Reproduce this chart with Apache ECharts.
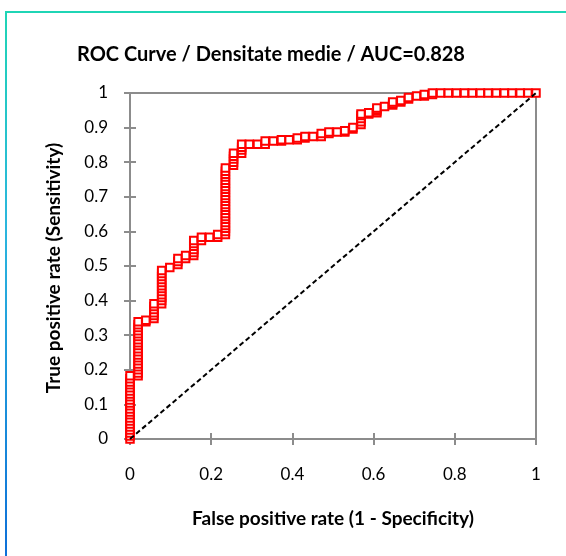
<!DOCTYPE html>
<html>
<head>
<meta charset="utf-8">
<script src="https://cdn.jsdelivr.net/npm/echarts@6/dist/echarts.min.js"></script>
<style>
html,body{margin:0;padding:0;background:#fff;}
#c{width:566px;height:556px;}
</style>
</head>
<body>
<div id="c"></div>
<script>
// Data
const titleText = "ROC Curve / Densitate medie / AUC=0.828";
const xAxisName = "False positive rate (1 - Specificity)";
const yAxisName = "True positive rate (Sensitivity)";
const tickValues = [0, 0.1, 0.2, 0.3, 0.4, 0.5, 0.6, 0.7, 0.8, 0.9, 1];
// false positive rate steps (k/51)
const fprSteps = [0, 0.020, 0.039, 0.059, 0.078, 0.098, 0.118, 0.137, 0.157, 0.176,
  0.196, 0.216, 0.235, 0.255, 0.275, 0.294, 0.314, 0.333, 0.353, 0.373,
  0.392, 0.412, 0.431, 0.451, 0.471, 0.490, 0.510, 0.529, 0.549, 0.569,
  0.588, 0.608, 0.627, 0.647, 0.667, 0.686, 0.706, 0.725, 0.745, 0.765,
  0.784, 0.804, 0.824, 0.843, 0.863, 0.882, 0.902, 0.922, 0.941, 0.961,
  0.980, 1.000];
// true positive rates observed at each false positive step
const tprAtStep = [
  [0, 0.009, 0.017, 0.026, 0.035, 0.043, 0.052, 0.061, 0.07, 0.078, 0.087, 0.096, 0.104, 0.113, 0.122, 0.13, 0.139, 0.148, 0.157, 0.165, 0.174, 0.183],
  [0.183, 0.191, 0.2, 0.209, 0.217, 0.226, 0.235, 0.243, 0.252, 0.261, 0.27, 0.278, 0.287, 0.296, 0.304, 0.313, 0.322, 0.33, 0.339],
  [0.339, 0.343],
  [0.348, 0.357, 0.365, 0.374, 0.383, 0.391],
  [0.391, 0.4, 0.409, 0.417, 0.426, 0.435, 0.443, 0.452, 0.461, 0.47, 0.478, 0.487],
  [0.496],
  [0.504, 0.513, 0.522],
  [0.522, 0.53],
  [0.53, 0.539, 0.548, 0.557, 0.565, 0.574],
  [0.574, 0.583],
  [0.583],
  [0.583, 0.591],
  [0.591, 0.6, 0.609, 0.617, 0.626, 0.635, 0.643, 0.652, 0.661, 0.67, 0.678, 0.687, 0.696, 0.704, 0.713, 0.722, 0.73, 0.739, 0.748, 0.757, 0.765, 0.774, 0.783],
  [0.791, 0.8, 0.809, 0.817, 0.826],
  [0.826, 0.835, 0.843, 0.852],
  [0.852],
  [0.852],
  [0.852, 0.861],
  [0.861],
  [0.861, 0.865],
  [0.865],
  [0.865, 0.87],
  [0.87, 0.874],
  [0.874],
  [0.874, 0.883],
  [0.883, 0.887],
  [0.887],
  [0.887, 0.891],
  [0.896, 0.9],
  [0.909, 0.917, 0.926, 0.935, 0.939],
  [0.939, 0.943],
  [0.943, 0.948, 0.952, 0.957],
  [0.961],
  [0.965, 0.97, 0.974],
  [0.974, 0.978],
  [0.983, 0.987],
  [0.991],
  [0.991, 0.996],
  [0.996, 1],
  [1], [1], [1], [1], [1], [1], [1], [1], [1], [1], [1], [1], [1]
];
const diagonal = [[0, 0], [1, 1]];

const rocPoints = [];
fprSteps.forEach((fx, i) => {
  (tprAtStep[i] || []).forEach(ty => rocPoints.push([fx, ty]));
});

const chart = echarts.init(document.getElementById('c'), null, {renderer: 'canvas'});
const FONT = 'Lato, "Open Sans", sans-serif';
const axisGray = '#8c8c8c';
const gridL = 130, gridT = 93, gridW = 406, gridH = 346;

const baseX = {
  type: 'value', min: 0, max: 1, interval: 0.2,
  splitLine: {show: false},
  axisLine: {show: true, onZero: false, lineStyle: {color: axisGray, width: 2}}
};
const baseY = {
  type: 'value', min: 0, max: 1, interval: 0.1,
  splitLine: {show: false},
  axisLine: {show: true, onZero: false, lineStyle: {color: axisGray, width: 2}}
};

chart.setOption({
  animation: false,
  backgroundColor: '#fff',
  title: {
    text: titleText, left: 266, top: 40, textAlign: 'center',
    textStyle: {fontFamily: FONT, fontWeight: 'bold', fontSize: 20, color: '#000'}
  },
  grid: {
    left: gridL, top: gridT, width: gridW, height: gridH,
    show: true, borderColor: axisGray, borderWidth: 2, backgroundColor: 'transparent'
  },
  graphic: [
    {type: 'line', shape: {x1: 5, y1: 12, x2: 566, y2: 12}, style: {stroke: '#1fd5b5', lineWidth: 2}, silent: true},
    {type: 'line', shape: {x1: 6, y1: 11, x2: 6, y2: 556},
      style: {stroke: new echarts.graphic.LinearGradient(0, 0, 0, 1, [
        {offset: 0, color: '#1fd5b5'}, {offset: 0.4, color: '#2bb6de'}, {offset: 1, color: '#0d6fd8'}]), lineWidth: 2}, silent: true},
    {type: 'text', x: 333, y: 519, style: {text: xAxisName, fontFamily: FONT, fontWeight: 'bold', fontSize: 19, fill: '#000', align: 'center', verticalAlign: 'middle'}},
    {type: 'text', x: 54, y: 268, rotation: Math.PI / 2, style: {text: yAxisName, fontFamily: FONT, fontWeight: 'bold', fontSize: 19, fill: '#000', align: 'center', verticalAlign: 'middle'}}
  ],
  xAxis: [
    Object.assign({}, baseX, {
      position: 'bottom',
      axisTick: {show: true, length: 6, lineStyle: {color: axisGray, width: 2}},
      axisLabel: {show: true, margin: 27, fontFamily: FONT, fontSize: 17, color: '#000',
        formatter: v => String(Math.round(v * 10) / 10)}
    }),
    Object.assign({}, baseX, {
      position: 'bottom',
      axisTick: {show: true, inside: true, length: 6, lineStyle: {color: axisGray, width: 2}},
      axisLabel: {show: false}
    })
  ],
  yAxis: [
    Object.assign({}, baseY, {
      position: 'left',
      axisTick: {show: true, length: 6, lineStyle: {color: axisGray, width: 2}},
      axisLabel: {show: true, margin: 22, fontFamily: FONT, fontSize: 17, color: '#000',
        formatter: v => String(Math.round(v * 10) / 10)}
    }),
    Object.assign({}, baseY, {
      position: 'left',
      axisTick: {show: true, inside: true, length: 6, lineStyle: {color: axisGray, width: 2}},
      axisLabel: {show: false}
    })
  ],
  series: [
    {
      type: 'scatter', xAxisIndex: 0, yAxisIndex: 0, data: rocPoints,
      symbol: 'rect', symbolSize: 7.5,
      itemStyle: {color: '#ffffff', borderColor: '#ff0000', borderWidth: 2, opacity: 1},
      z: 3, clip: false
    },
    {
      type: 'line', xAxisIndex: 0, yAxisIndex: 0, data: diagonal,
      showSymbol: false, symbol: 'none',
      lineStyle: {color: '#000', width: 2, type: [5, 3]},
      z: 5
    }
  ]
});
</script>
</body>
</html>
